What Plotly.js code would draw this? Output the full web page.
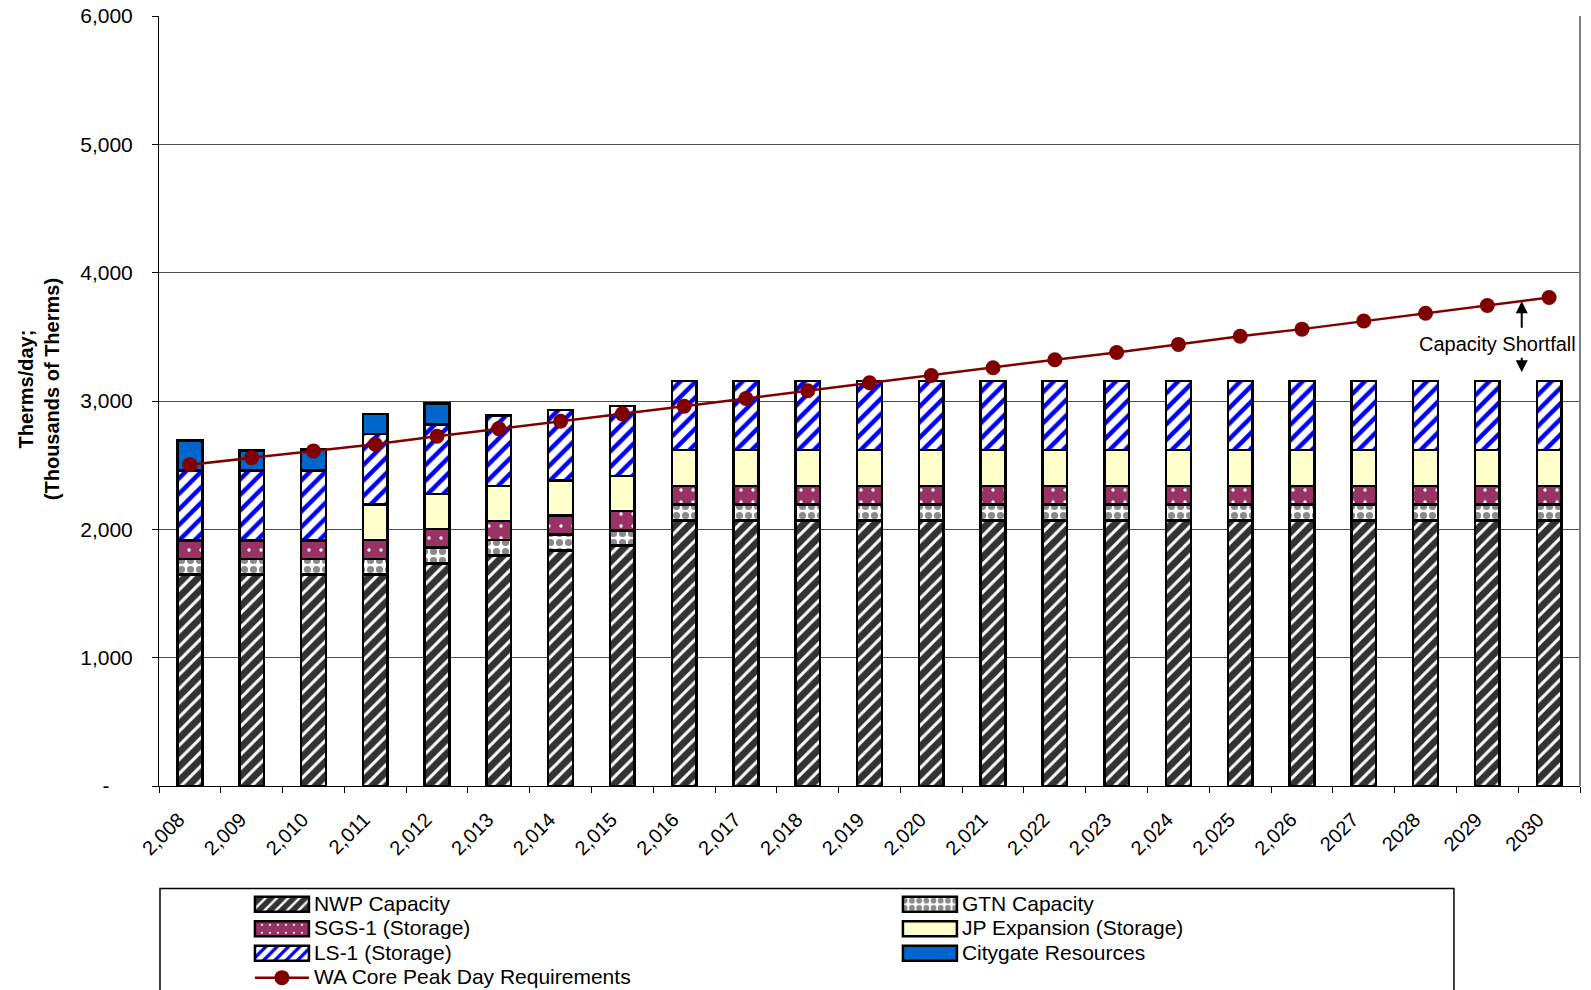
<!DOCTYPE html>
<html>
<head>
<meta charset="utf-8">
<script src="https://cdn.plot.ly/plotly-3.0.1.min.js"></script>
<style>
  html, body { margin: 0; padding: 0; background: #fff; }
  #chart { width: 1591px; height: 990px; }
</style>
</head>
<body>
<div id="chart"></div>
<script>
// Category labels along the x axis (years, as formatted in the source workbook)
const years = ['2,008','2,009','2,010','2,011','2,012','2,013','2,014','2,015','2,016','2,017','2,018','2,019',
               '2,020','2,021','2,022','2,023','2,024','2,025','2,026','2027','2028','2029','2030'];

// Peak-day resources, thousands of therms per day (stacked bottom to top)
const nwpCapacity = [1650,1650,1650,1650,1735,1795,1835,1875,2070,2070,2070,2070,2070,2070,2070,2070,2070,2070,2070,2070,2070,2070,2070];
const gtnCapacity = [118,118,118,120,125,123,123,117,122,122,122,122,122,122,122,122,122,122,122,122,122,122,122];
const sgs1Storage = [145,145,145,148,143,146,151,151,146,146,146,146,146,146,146,146,146,146,146,146,146,146,146];
const jpExpansion = [0,0,0,274,273,273,273,274,279,279,279,279,279,279,279,279,279,279,279,279,279,279,279];
const ls1Storage  = [545,545,545,552,542,552,547,546,539,539,539,539,539,539,539,539,539,539,539,539,539,539,539];
const citygate    = [236,158,163,156,162,0,0,0,0,0,0,0,0,0,0,0,0,0,0,0,0,0,0];

// Washington core peak day requirement
const waCoreReq = [2504,2559,2611,2663,2725,2785,2842,2900,2959,3020,3080,3142,3199,3259,3322,3378,3441,3505,3560,3623,3684,3744,3806];

// Y axis ticks
const yTickVals = [0,1000,2000,3000,4000,5000,6000];
const yTickText = ['-\u00a0\u00a0\u00a0\u00a0','1,000','2,000','3,000','4,000','5,000','6,000'];

const FONT = 'Liberation Sans, Arial, sans-serif';
const outline = { color: '#000', width: 2.5 };

function stackBar(name, values, marker) {
  return {
    type: 'bar', name: name, x: years, y: values,
    marker: Object.assign({ line: outline }, marker),
    hovertemplate: name + ': %{y:,}<extra></extra>'
  };
}

const traces = [
  stackBar('NWP Capacity', nwpCapacity, {
    color: '#333333',
    pattern: { shape: '/', bgcolor: '#333333', fgcolor: '#ffffff', size: 10, solidity: 0.3 }
  }),
  stackBar('GTN Capacity', gtnCapacity, {
    color: '#ffffff',
    pattern: { shape: '.', bgcolor: '#ffffff', fgcolor: '#8a8a8a', size: 9, solidity: 0.5 }
  }),
  stackBar('SGS-1 (Storage)', sgs1Storage, {
    color: '#993366',
    pattern: { shape: '.', bgcolor: '#993366', fgcolor: '#ffffff', size: 12, solidity: 0.06 }
  }),
  stackBar('JP Expansion (Storage)', jpExpansion, { color: '#ffffcc' }),
  stackBar('LS-1 (Storage)', ls1Storage, {
    color: '#ffffff',
    pattern: { shape: '/', bgcolor: '#ffffff', fgcolor: '#0000ff', size: 11, solidity: 0.4 }
  }),
  stackBar('Citygate Resources', citygate, { color: '#0066cc' }),
  {
    type: 'scatter', mode: 'lines+markers', name: 'WA Core Peak Day Requirements',
    x: years, y: waCoreReq,
    line: { color: '#800000', width: 2.5 },
    marker: { color: '#800000', size: 15 },
    hovertemplate: 'Requirement: %{y:,}<extra></extra>'
  }
];

const layout = {
  width: 1591, height: 990,
  margin: { l: 159, r: 11, t: 16, b: 204, autoexpand: false },
  paper_bgcolor: '#ffffff', plot_bgcolor: '#ffffff',
  font: { family: FONT, color: '#000', size: 20 },
  barmode: 'stack',
  bargap: 0.6,
  showlegend: true,
  legend: {
    orientation: 'h', traceorder: 'normal',
    x: 0.064, xanchor: 'left', y: -0.1313, yanchor: 'top',
    entrywidthmode: 'fraction', entrywidth: 0.456, itemwidth: 54,
    font: { size: 16.5, family: FONT },
    bgcolor: 'rgba(0,0,0,0)', borderwidth: 0
  },
  xaxis: {
    type: 'category', range: [-0.5, 22.5], tickson: 'boundaries',
    ticks: 'outside', ticklen: 6, tickcolor: '#000',
    tickangle: -45, tickfont: { size: 20 }, ticklabelstandoff: 13, ticklabelshift: -11,
    showline: true, linecolor: '#000', linewidth: 1,
    showgrid: false, zeroline: false
  },
  yaxis: {
    range: [0, 6000], tickvals: yTickVals, ticktext: yTickText,
    ticks: 'outside', ticklen: 6, tickcolor: '#000', ticklabelstandoff: 15,
    tickfont: { size: 21 },
    showline: true, linecolor: '#000', linewidth: 1,
    showgrid: true, gridcolor: '#4d4d4d', gridwidth: 1, zeroline: false
  },
  annotations: [
    // y axis title
    { xref: 'paper', yref: 'paper', x: -0.0848, y: 0.516, xanchor: 'center', yanchor: 'middle',
      text: 'Therms/day;<br>(Thousands of Therms)', textangle: -90, showarrow: false,
      font: { size: 20, weight: 'bold' } },
    { xref: 'paper', yref: 'y', x: 0.9416, y: 3441, text: 'Capacity Shortfall',
      showarrow: false, xanchor: 'center', yanchor: 'middle', font: { size: 20 } },
    { xref: 'paper', yref: 'y', x: 0.959, y: 3777, ax: 0, ay: 28, text: '',
      showarrow: true, arrowhead: 2, arrowsize: 1.2, arrowwidth: 2, arrowcolor: '#000' },
    { xref: 'paper', yref: 'y', x: 0.959, y: 3225, ax: 0, ay: -16, text: '',
      showarrow: true, arrowhead: 2, arrowsize: 1.2, arrowwidth: 2, arrowcolor: '#000' }
  ],
  shapes: [
    // right edge of the plot frame
    { type: 'line', xref: 'paper', yref: 'paper', x0: 1, x1: 1, y0: 0, y1: 1,
      line: { color: '#808080', width: 2 } },
    // legend frame
    { type: 'rect', xref: 'paper', yref: 'paper', x0: 0.0007, x1: 0.9113, y0: -0.133, y1: -0.31,
      line: { color: '#000', width: 1.5 }, fillcolor: 'rgba(0,0,0,0)' }
  ]
};

// Legend entries: larger label text and wide bar swatches on compact rows
function styleLegend(gd) {
  gd.querySelectorAll('.legend .legendtext').forEach(function (t) {
    t.style.fontSize = '21px';
    t.setAttribute('y', '6.5');
  });
  gd.querySelectorAll('.legend g.legendpoints path').forEach(function (p) {
    var d = (p.getAttribute('d') || '').replace(/\s/g, '');
    if (d.indexOf('M6,6H-6V-6H6Z') === 0) {
      p.setAttribute('d', 'M27,7.5H-27V-7.5H27Z');
      p.style.strokeWidth = '2.5px';
    }
  });
}

Plotly.newPlot('chart', traces, layout, { displayModeBar: false, responsive: false })
  .then(function (gd) {
    styleLegend(gd);
    gd.on('plotly_afterplot', function () { styleLegend(gd); });
  });
</script>
</body>
</html>
